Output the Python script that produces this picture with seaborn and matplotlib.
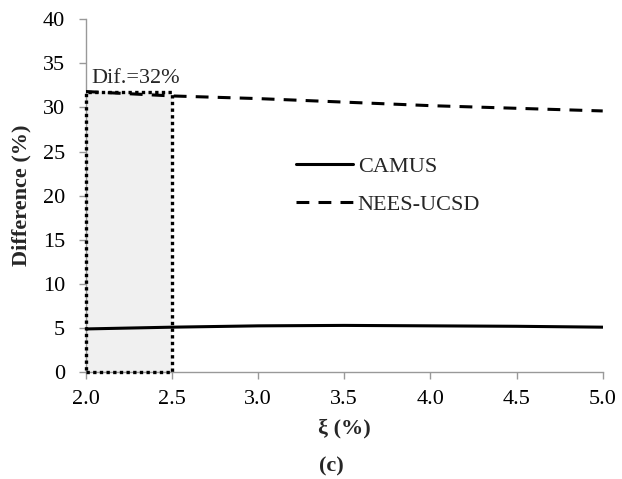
import matplotlib
matplotlib.use("Agg")
import matplotlib.pyplot as plt
import seaborn as sns
import pandas as pd
from matplotlib.patches import Rectangle

xi = [2.0, 2.5, 3.0, 3.5, 4.0, 4.5, 5.0]
camus = [4.9, 5.1, 5.25, 5.3, 5.25, 5.2, 5.1]
nees_ucsd = [31.8, 31.3, 31.0, 30.6, 30.2, 29.9, 29.6]
yticks = [0, 5, 10, 15, 20, 25, 30, 35, 40]
xticks = [2.0, 2.5, 3.0, 3.5, 4.0, 4.5, 5.0]
highlight = (2.0, 2.5, 31.8)

sns.set_theme(style="white")
plt.rcParams['font.family'] = ['Liberation Serif', 'DejaVu Serif']

df = pd.DataFrame({"xi": xi * 2,
                   "val": camus + nees_ucsd,
                   "series": ["CAMUS"] * len(xi) + ["NEES-UCSD"] * len(xi)})

fig = plt.figure(figsize=(6.22, 4.79), dpi=100)
ax = fig.add_axes([0.138, 0.223, 0.831, 0.737])

ax.add_patch(Rectangle((highlight[0], 0), highlight[1] - highlight[0], highlight[2],
                       facecolor="none", edgecolor="none", zorder=1))
ax.add_patch(Rectangle((highlight[0], 0), highlight[1] - highlight[0], highlight[2],
                       facecolor="#f0f0f0", edgecolor="none", zorder=1))
ax.add_patch(Rectangle((highlight[0], 0), highlight[1] - highlight[0], highlight[2],
                       facecolor="none", edgecolor="black", linestyle=(0, (1, 1)),
                       linewidth=2.4, zorder=2.7, clip_on=False))

sns.lineplot(data=df, x="xi", y="val", style="series", color="black",
             dashes={"CAMUS": "", "NEES-UCSD": (4.2, 3.0)}, linewidth=2.2,
             ax=ax, zorder=3, legend=True)

ax.set_xlim(2.0, 5.0)
ax.set_ylim(0, 40)
ax.set_xticks(xticks)
ax.set_xticklabels([f"{t:.1f}" for t in xticks])
ax.set_yticks(yticks)
ax.set_yticklabels([str(t) for t in yticks])
for s in ["top", "right"]:
    ax.spines[s].set_visible(False)
for s in ["left", "bottom"]:
    ax.spines[s].set_color("#999999")
    ax.spines[s].set_linewidth(1.0)
ax.tick_params(axis="both", direction="out", length=5, width=1, color="#999999",
               labelsize=16, labelcolor="black", left=True, bottom=True)
ax.tick_params(axis="y", pad=10)
ax.tick_params(axis="x", pad=8)

ax.set_xlabel("ξ (%)", fontsize=16, fontweight="bold", labelpad=7)
ax.set_ylabel("Difference (%)", fontsize=16, fontweight="bold", labelpad=8)

ax.text(2.035, 33.3, "Dif.=32%", fontsize=16, ha="left", va="center")

leg = ax.legend(title=None, frameon=False, fontsize=16, loc="upper left",
                bbox_to_anchor=(0.367, 0.668), handlelength=2.6, handletextpad=0.2,
                labelspacing=0.8)

fig.text(0.533, 0.026, "(c)", fontsize=16, fontweight="bold", ha="center", va="center")

fig.savefig("out.png", dpi=100)
